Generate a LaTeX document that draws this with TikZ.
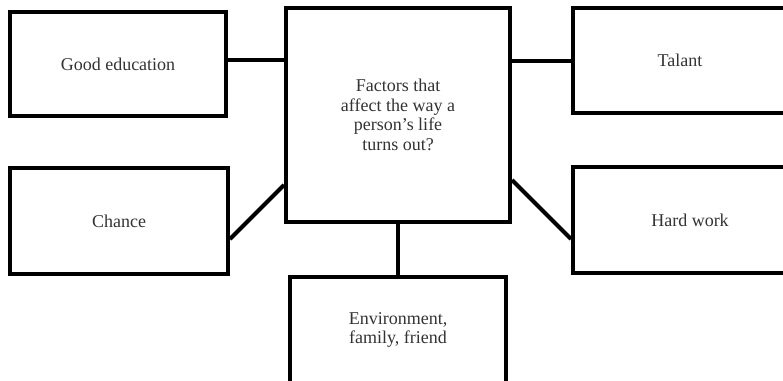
\documentclass[tikz,border=0pt]{standalone}
\usepackage{fontspec}
\setmainfont{Liberation Serif}
\definecolor{txt}{HTML}{333333}
\begin{document}
\begin{tikzpicture}[x=1pt,y=-1pt,
  box/.style={draw=black, line width=4pt, fill=white, rectangle, inner sep=0pt,
    font=\fontsize{18}{19.5}\selectfont, text=txt, align=center},
  link/.style={draw=black, line width=4pt}]
\clip (0,0) rectangle (783,380);
\fill[white] (0,0) rectangle (783,380);
\node[box, minimum width=216pt, minimum height=104pt] (good) at (118,64) {Good education};
\node[box, minimum width=224pt, minimum height=214pt] (center) at (398,115)
  {Factors that\\affect the way a\\person’s life\\turns out?};
\node[box, minimum width=214pt, minimum height=105pt] (talant) at (680,60.5) {Talant};
\node[box, minimum width=218pt, minimum height=106pt] (chance) at (119,221) {Chance};
\node[box, minimum width=234pt, minimum height=106pt] (hard) at (690,220) {Hard work};
\node[box, minimum width=216pt, minimum height=106pt] (env) at (398,330)
  {Environment,\\family, friend};
\coordinate (g1) at ([yshift=4pt]good.east);
\draw[link] (g1) -- (g1 -| center.west);
\draw[link] (talant.west) -- (talant.west -| center.east);
\draw[link] ([yshift=-18pt]chance.east) -- ([yshift=-70pt]center.west);
\draw[link] ([yshift=-65pt]center.east) -- ([yshift=-19pt]hard.west);
\draw[link] (center.south) -- (env.north);
\end{tikzpicture}
\end{document}
